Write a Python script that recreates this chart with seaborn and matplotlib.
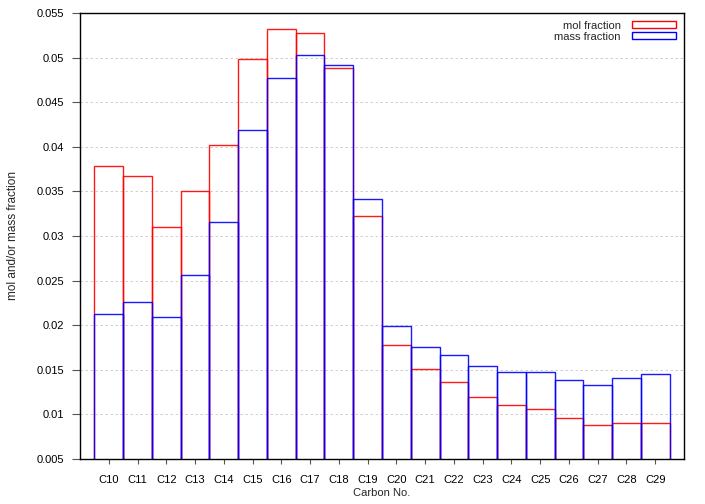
import matplotlib
matplotlib.use("Agg")
import matplotlib.pyplot as plt
import seaborn as sns
import pandas as pd
from matplotlib.patches import Patch

categories = ["C10", "C11", "C12", "C13", "C14", "C15", "C16", "C17", "C18", "C19",
              "C20", "C21", "C22", "C23", "C24", "C25", "C26", "C27", "C28", "C29"]
mol_fraction = [0.0378, 0.0367, 0.0310, 0.0350, 0.0402, 0.0498, 0.0532, 0.0528, 0.0488, 0.0322,
                0.0178, 0.0151, 0.0136, 0.0120, 0.0111, 0.0106, 0.0096, 0.0088, 0.0090, 0.0090]
mass_fraction = [0.0212, 0.0226, 0.0209, 0.0256, 0.0316, 0.0419, 0.0477, 0.0503, 0.0492, 0.0342,
                 0.0199, 0.0176, 0.0167, 0.0154, 0.0148, 0.0147, 0.0139, 0.0133, 0.0141, 0.0145]
series_names = ["mol fraction", "mass fraction"]
yticks = [0.005, 0.01, 0.015, 0.02, 0.025, 0.03, 0.035, 0.04, 0.045, 0.05, 0.055]
ytick_labels = ["0.005", "0.01", "0.015", "0.02", "0.025", "0.03", "0.035", "0.04", "0.045", "0.05", "0.055"]

df = pd.DataFrame({
    "cat": categories * 2,
    "value": mol_fraction + mass_fraction,
    "series": [series_names[0]] * len(categories) + [series_names[1]] * len(categories),
})

sns.set_theme(style="white")
plt.rcParams["font.family"] = ["Liberation Sans", "DejaVu Sans"]

fig = plt.figure(figsize=(7.05, 5.04), dpi=100)
ax = fig.add_axes([80 / 705, 45 / 504, 604 / 705, 446 / 504])

colors = {"mol fraction": "#ff0000", "mass fraction": "#0000ff"}
sns.barplot(data=df, x="cat", y="value", hue="series", order=categories,
            hue_order=series_names, palette=colors, dodge=False, width=1.0,
            fill=False, linewidth=1.0, errorbar=None, legend=False, ax=ax)
for p in ax.patches:
    p.set_alpha(0.9)

ax.set_xlim(-1, 20)
ax.set_ylim(0.005, 0.055)
ax.set_yticks(yticks)
ax.set_yticklabels(ytick_labels)
ax.yaxis.grid(True, color="#c8c8c8", linestyle=(0, (3, 3)), linewidth=0.6)
ax.set_axisbelow(True)
for s in ax.spines.values():
    s.set_color("black")
    s.set_linewidth(1.0)
ax.tick_params(axis="x", which="major", direction="out", length=3.6, width=0.8,
               color="#555555", labelsize=8, labelcolor="black", pad=8, bottom=True)
ax.tick_params(axis="y", which="major", direction="out", length=5.8, width=0.8,
               color="#555555", labelsize=8, labelcolor="black", pad=5.5, left=True)
ax.set_xlabel("Carbon No.", fontsize=8, labelpad=2)
ax.set_ylabel("mol and/or mass fraction", fontsize=8.5, labelpad=13)

handles = [Patch(facecolor="none", edgecolor=colors[n], linewidth=1.0) for n in series_names]
ax.legend(handles, series_names, loc="upper right", frameon=False, markerfirst=False,
          fontsize=8, handlelength=4.0, handleheight=0.6, labelspacing=0.1,
          borderaxespad=0.3, handletextpad=1.0)

fig.savefig("out.png", dpi=100)
